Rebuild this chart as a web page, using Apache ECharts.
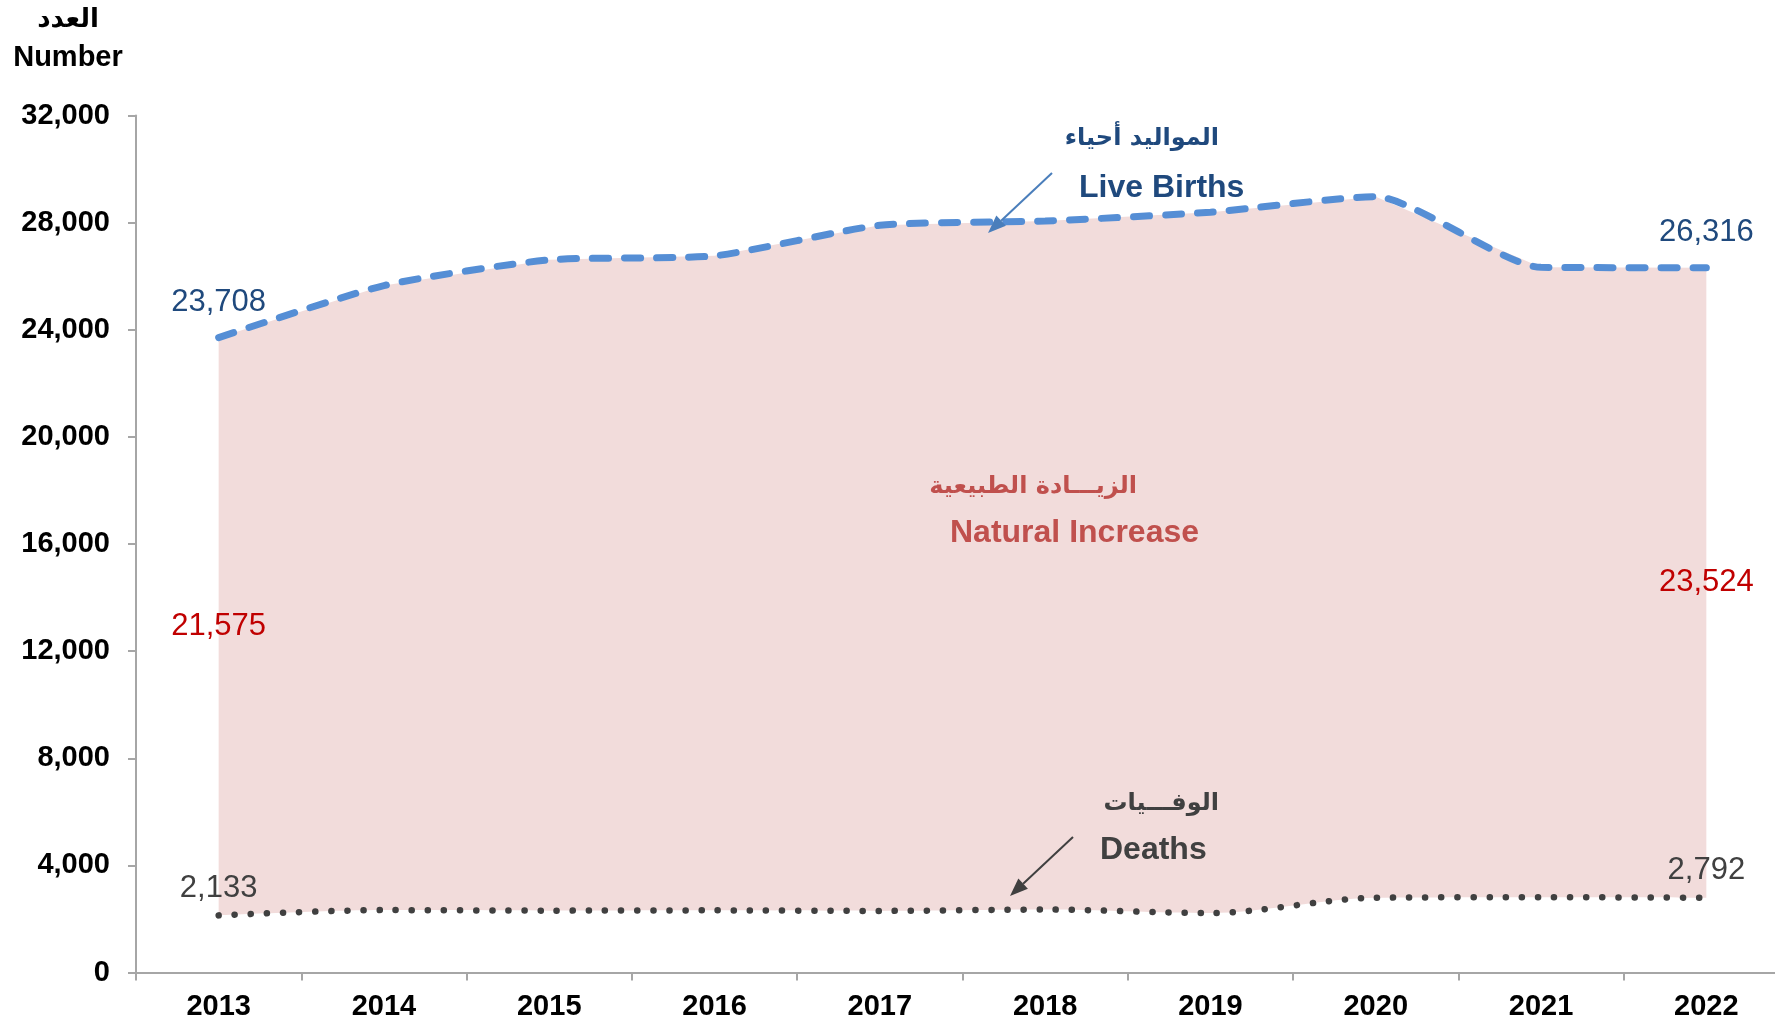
<!DOCTYPE html>
<html>
<head>
<meta charset="utf-8">
<script src="https://cdn.jsdelivr.net/npm/echarts@6/dist/echarts.min.js"></script>
<style>
  html, body { margin: 0; padding: 0; background: #fff; }
  #chart { width: 1775px; height: 1026px; }
</style>
</head>
<body>
<div id="chart"></div>
<script>
// data
var years = ['2013', '2014', '2015', '2016', '2017', '2018', '2019', '2020', '2021', '2022'];
var liveBirths = [23708, 25650, 26610, 26760, 27900, 28060, 28390, 28970, 26330, 26316];
var deaths = [2133, 2330, 2310, 2320, 2300, 2350, 2220, 2790, 2810, 2792];
var naturalIncrease = [21575, 23320, 24300, 24440, 25600, 25710, 26170, 26180, 23520, 23524];
var labelled = [0, 9];          // points that carry a value label
var yMin = 0, yMax = 32000, yStep = 4000;

var LATIN = "'Liberation Sans', Arial, sans-serif";
var ARABIC = "'DejaVu Sans', sans-serif";

function fmt(v) { return Number(v).toLocaleString('en-US'); }

function labelPoints(values, base) {
    return labelled.map(function (i) {
        var y = base ? base[i] + values[i] / 2 : values[i];
        return [i, y, values[i]];
    });
}

function labelSeries(values, base, color, pos, dist) {
    return {
        type: 'scatter',
        data: labelPoints(values, base),
        symbolSize: 1,
        itemStyle: { color: 'rgba(0,0,0,0)', opacity: 1 },
        z: 10,
        silent: true,
        label: {
            show: true,
            position: pos,
            distance: dist,
            color: color,
            opacity: 1,
            fontSize: 31,
            fontFamily: LATIN,
            formatter: function (p) { return fmt(p.value[2]); }
        }
    };
}

function arrow(x1, y1, x2, y2, color) {
    var dx = x2 - x1, dy = y2 - y1;
    var len = Math.sqrt(dx * dx + dy * dy);
    var ux = dx / len, uy = dy / len;
    var hl = 18, hw = 7;
    var bx = x2 - ux * hl, by = y2 - uy * hl;
    return [
        { type: 'line', z: 20, shape: { x1: x1, y1: y1, x2: bx, y2: by },
          style: { stroke: color, lineWidth: 2 } },
        { type: 'polygon', z: 20,
          shape: { points: [[x2, y2], [bx - uy * hw, by + ux * hw], [bx + uy * hw, by - ux * hw]] },
          style: { fill: color } }
    ];
}

function text(str, x, y, opts) {
    return {
        type: 'text', x: x, y: y, z: 20,
        style: {
            text: str,
            fill: opts.color,
            fontSize: opts.size,
            fontWeight: opts.weight || 'bold',
            fontFamily: opts.family || LATIN,
            align: opts.align || 'left',
            verticalAlign: 'middle'
        }
    };
}

var chart = echarts.init(document.getElementById('chart'));

var graphics = [
    text('العدد', 68, 20, { color: '#000', size: 26, family: ARABIC, align: 'center' }),
    text('Number', 68, 58, { color: '#000', size: 29, align: 'center' }),
    text('المواليد أحياء', 1219, 139, { color: '#1f497d', size: 24, family: ARABIC, align: 'right' }),
    text('Live Births', 1079, 188, { color: '#1f497d', size: 32 }),
    text('الزيـــادة الطبيعية', 1137, 487, { color: '#c0504d', size: 24, family: ARABIC, align: 'right' }),
    text('Natural Increase', 950, 533, { color: '#c0504d', size: 32 }),
    text('الوفـــيات', 1219, 804, { color: '#404040', size: 24, family: ARABIC, align: 'right' }),
    text('Deaths', 1100, 850, { color: '#404040', size: 32 })
].concat(arrow(1052, 173, 988, 233, '#4a7ebb'))
 .concat(arrow(1073, 837, 1010, 896, '#404040'));

chart.setOption({
    backgroundColor: '#fff',
    animation: false,
    grid: { left: 136, width: 1653, top: 115.5, bottom: 53.5,
            containLabel: false, outerBoundsMode: 'none' },
    xAxis: {
        type: 'category',
        data: years,
        boundaryGap: true,
        axisLine: { lineStyle: { color: '#a6a6a6', width: 2 } },
        axisTick: { show: true, length: 8, lineStyle: { color: '#a6a6a6', width: 2 } },
        axisLabel: { color: '#000', fontSize: 29, fontWeight: 'bold', fontFamily: LATIN, margin: 20 },
        splitLine: { show: false }
    },
    yAxis: {
        type: 'value',
        min: yMin, max: yMax, interval: yStep,
        axisLine: { show: true, lineStyle: { color: '#a6a6a6', width: 2 } },
        axisTick: { show: true, length: 8, lineStyle: { color: '#a6a6a6', width: 2 } },
        axisLabel: { color: '#000', fontSize: 29, fontWeight: 'bold', fontFamily: LATIN, margin: 26,
                     formatter: fmt },
        splitLine: { show: false }
    },
    graphic: graphics,
    series: [
        {
            name: 'Deaths', type: 'line', stack: 'total',
            data: deaths, smooth: 0.3, symbol: 'none', z: 4,
            lineStyle: { color: '#404040', width: 6.5, type: [0.1, 16], cap: 'round' }
        },
        {
            name: 'Natural Increase', type: 'line', stack: 'total',
            data: naturalIncrease, smooth: false, symbol: 'none', z: 1,
            lineStyle: { width: 0, opacity: 0 },
            areaStyle: { color: '#f2dcdb', opacity: 1 }
        },
        {
            name: 'Live Births', type: 'line',
            data: liveBirths, smooth: 0.2, symbol: 'none', z: 5,
            lineStyle: { color: '#558ed5', width: 7, type: [16, 16], cap: 'round' }
        },
        labelSeries(liveBirths, null, '#1f497d', 'top', 19),
        labelSeries(naturalIncrease, deaths, '#c00000', 'inside', 0),
        labelSeries(deaths, null, '#404040', 'top', 11)
    ]
});
</script>
</body>
</html>
